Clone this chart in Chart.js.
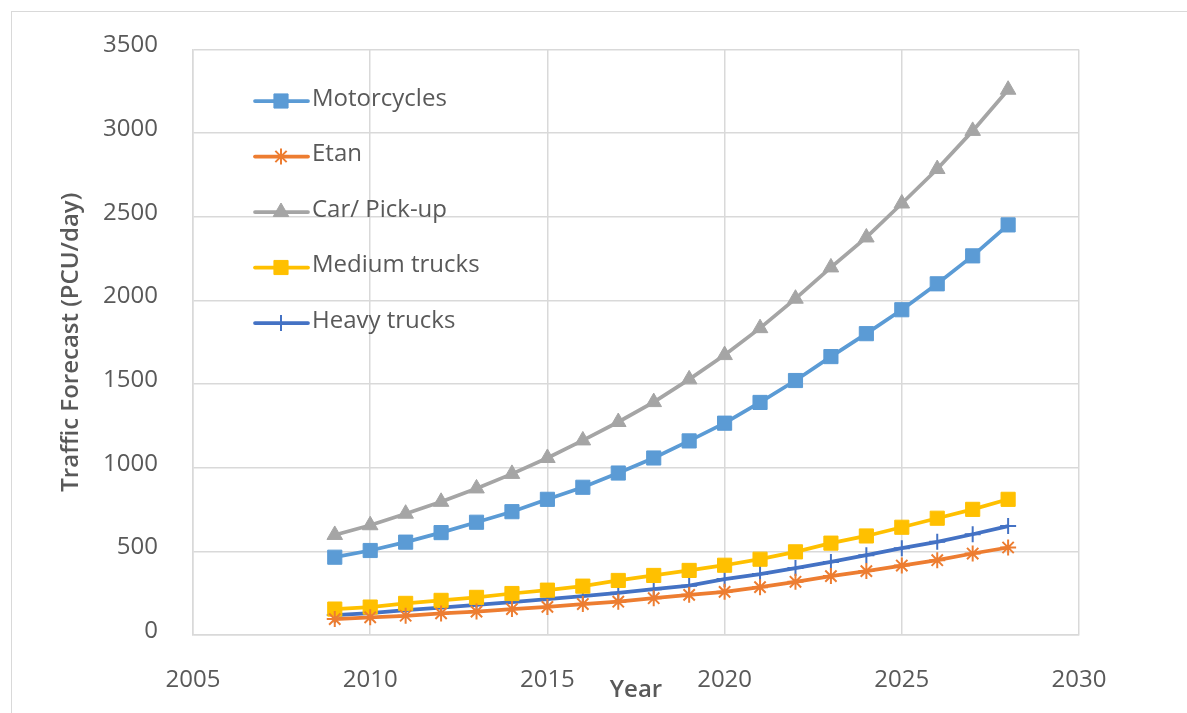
<!DOCTYPE html>
<html>
<head>
<meta charset="utf-8">
<script src="https://cdn.jsdelivr.net/npm/chart.js@4/dist/chart.umd.min.js"></script>
<style>
  html, body { margin: 0; padding: 0; background: #ffffff; overflow: hidden; }
  #wrap { position: relative; width: 1187px; height: 713px; }
  #frame { position: absolute; left: 11px; top: 11px; width: 1300px; height: 900px;
           border-left: 1.5px solid #d9d9d9; border-top: 1.5px solid #d9d9d9; pointer-events: none; }
  canvas { position: absolute; left: 0; top: 0; }
</style>
</head>
<body>
<div id="wrap">
  <canvas id="c" width="1187" height="713"></canvas>
  <div id="frame"></div>
</div>
<script>
const years = [2009, 2010, 2011, 2012, 2013, 2014, 2015, 2016, 2017, 2018, 2019, 2020, 2021, 2022, 2023, 2024, 2025, 2026, 2027, 2028];
const motorcycles = [465, 505, 555, 612, 674, 737, 811, 883, 968, 1058, 1160, 1266, 1390, 1521, 1664, 1801, 1944, 2099, 2266, 2451];
const etan = [95, 106, 115, 129, 140, 155, 168, 185, 199, 220, 240, 258, 286, 318, 352, 382, 415, 447, 487, 523];
const carPickup = [598, 656, 725, 796, 876, 963, 1058, 1163, 1273, 1392, 1528, 1673, 1834, 2010, 2197, 2376, 2579, 2785, 3013, 3259];
const mediumTrucks = [155, 167, 189, 207, 225, 248, 268, 292, 326, 356, 386, 417, 453, 497, 549, 592, 644, 698, 751, 811];
const heavyTrucks = [119, 131, 149, 163, 180, 197, 215, 233, 252, 274, 295, 334, 364, 400, 437, 477, 519, 557, 602, 651];
const seriesNames = ["Motorcycles", "Etan", "Car/ Pick-up", "Medium trucks", "Heavy trucks"];
const yTicks = [0, 500, 1000, 1500, 2000, 2500, 3000, 3500];
const xTicks = [2005, 2010, 2015, 2020, 2025, 2030];

const FONT = "'Open Sans', 'Noto Sans', 'Liberation Sans', sans-serif";
const TXT = '#595959';
const GRID = '#d9d9d9';

function pts(vals) { return years.map((yr, i) => ({ x: yr, y: vals[i] })); }

const styles = [
  { color: '#5B9BD5', point: 'rect', r: 10, bw: 1 },
  { color: '#ED7D31', point: 'star', r: 8, bw: 2 },
  { color: '#A5A5A5', point: 'triangle', r: 9, bw: 1 },
  { color: '#FFC000', point: 'rect', r: 10, bw: 1 },
  { color: '#4472C4', point: 'cross', r: 8, bw: 2 }
];
const allVals = [motorcycles, etan, carPickup, mediumTrucks, heavyTrucks];

const datasets = allVals.map((v, i) => ({
  label: seriesNames[i],
  data: pts(v),
  borderColor: styles[i].color,
  backgroundColor: styles[i].color,
  borderWidth: 3.75,
  pointStyle: styles[i].point,
  pointRadius: styles[i].r,
  pointBorderWidth: styles[i].bw,
  pointBackgroundColor: styles[i].color,
  pointBorderColor: styles[i].color,
  tension: 0,
  fill: false
}));

const legendPlugin = {
  id: 'insideLegend',
  afterDraw(chart) {
    const ctx = chart.ctx;
    const rowY0 = 101, rowStep = 55.5;
    ctx.save();
    chart.data.datasets.forEach((ds, i) => {
      const y = rowY0 + i * rowStep;
      ctx.strokeStyle = ds.borderColor;
      ctx.lineWidth = 3.75;
      ctx.lineCap = 'round';
      ctx.beginPath();
      ctx.moveTo(255, y);
      ctx.lineTo(308, y);
      ctx.stroke();
      ctx.fillStyle = ds.pointBackgroundColor;
      ctx.strokeStyle = ds.pointBorderColor;
      ctx.lineWidth = ds.pointBorderWidth;
      ctx.lineCap = 'butt';
      if (Chart.helpers && Chart.helpers.drawPoint) {
        Chart.helpers.drawPoint(ctx, { pointStyle: ds.pointStyle, rotation: 0, radius: ds.pointRadius, borderWidth: ds.pointBorderWidth }, 281, y);
      }
      ctx.fillStyle = TXT;
      ctx.font = "24px " + FONT;
      ctx.textAlign = 'left';
      ctx.textBaseline = 'middle';
      ctx.fillText(ds.label, 312, y - 2);
    });
    ctx.restore();
  }
};

new Chart(document.getElementById('c'), {
  type: 'line',
  data: { datasets },
  options: {
    responsive: false,
    animation: false,
    devicePixelRatio: 1,
    layout: { padding: { left: 0, right: 108, top: 48, bottom: 0 } },
    plugins: { legend: { display: false }, tooltip: { enabled: false } },
    scales: {
      x: {
        type: 'linear',
        min: 2005, max: 2030,
        afterBuildTicks(scale) { scale.ticks = xTicks.map(v => ({ value: v })); },
        afterFit(scale) { scale.height = 78; },
        grid: { color: GRID, lineWidth: 1.5, drawTicks: false },
        border: { color: GRID, width: 1.5 },
        ticks: { color: TXT, font: { family: FONT, size: 24 }, padding: 31, maxRotation: 0,
                 callback: v => String(v) },
        title: { display: true, text: 'Year', color: TXT,
                 font: { family: FONT, size: 24, weight: '600' }, padding: { top: 0, bottom: 8 } }
      },
      y: {
        min: 0, max: 3500,
        afterBuildTicks(scale) { scale.ticks = yTicks.map(v => ({ value: v })); },
        afterFit(scale) { scale.width = 193; },
        grid: { color: GRID, lineWidth: 1.5, drawTicks: false },
        border: { color: GRID, width: 1.5 },
        ticks: { color: TXT, font: { family: FONT, size: 24 }, padding: 35, labelOffset: -4,
                 callback: v => String(v) },
        title: { display: true, text: 'Traffic Forecast (PCU/day)', color: TXT,
                 font: { family: FONT, size: 24, weight: '600' }, padding: { top: 57, bottom: 0 } }
      }
    }
  },
  plugins: [legendPlugin]
});
</script>
</body>
</html>
